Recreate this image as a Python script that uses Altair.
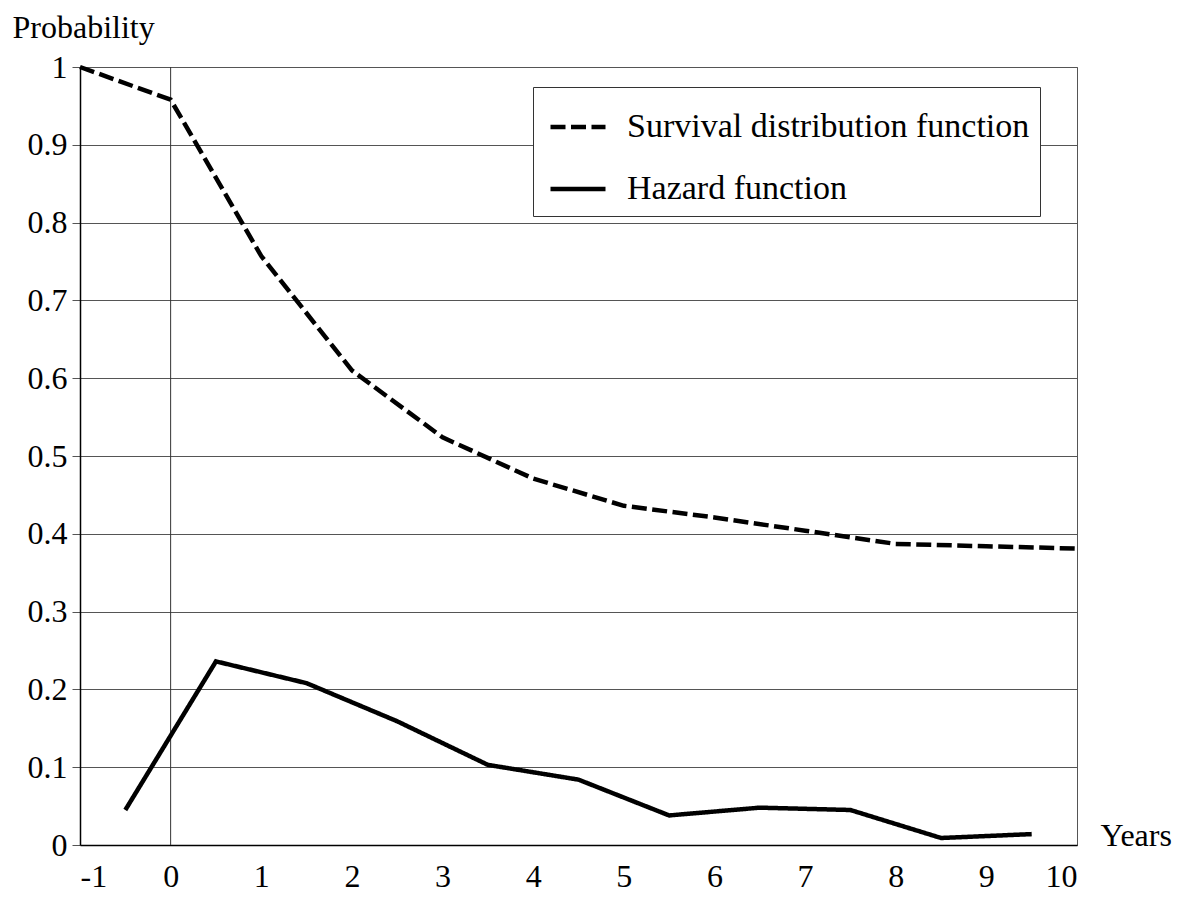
import altair as alt
import pandas as pd

FONT = "Liberation Serif"

surv_years = [-1, 0, 1, 2, 3, 4, 5, 6, 7, 8, 9, 10]
surv_vals = [1.0, 0.958, 0.757, 0.61, 0.524, 0.471, 0.436, 0.421, 0.404, 0.387, 0.384, 0.381]

haz_years = [-0.5, 0.5, 1.5, 2.5, 3.5, 4.5, 5.5, 6.5, 7.5, 8.5, 9.5]
haz_vals = [0.045, 0.236, 0.208, 0.159, 0.103, 0.084, 0.038, 0.048, 0.045, 0.009, 0.014]

series_names = ["Survival distribution function", "Hazard function"]
x_ticks = [-1, 0, 1, 2, 3, 4, 5, 6, 7, 8, 9, 10]
y_ticks = [0, 0.1, 0.2, 0.3, 0.4, 0.5, 0.6, 0.7, 0.8, 0.9, 1]

df = pd.concat([
    pd.DataFrame({"year": surv_years, "p": surv_vals, "series": series_names[0]}),
    pd.DataFrame({"year": haz_years, "p": haz_vals, "series": series_names[1]}),
])

axis_font = dict(labelFont=FONT, labelFontSize=32, labelColor="black",
                 titleFont=FONT, titleFontSize=32, titleFontWeight="normal", titleColor="black")

x_enc = alt.X("year:Q",
              scale=alt.Scale(domain=[-1, 10], nice=False, zero=False),
              axis=alt.Axis(values=x_ticks, labelExpr="datum.value + ''", grid=False,
                            ticks=False, labelPadding=16,
                            title="Years", titleX=1020, titleY=0, titleAlign="left",
                            titleBaseline="alphabetic", titleAngle=0,
                            domainColor="#000", domainWidth=1.5, **axis_font))
y_enc = alt.Y("p:Q",
              scale=alt.Scale(domain=[0, 1], nice=False),
              axis=alt.Axis(values=y_ticks, labelExpr="datum.value + ''", grid=True,
                            gridColor="#555", gridWidth=1, tickSize=8, tickColor="#555",
                            labelPadding=5,
                            title="Probability", titleX=-68, titleY=-30, titleAngle=0,
                            titleAlign="left", titleBaseline="alphabetic",
                            domainColor="#000", domainWidth=1.5, **axis_font))

lines = alt.Chart(df).mark_line(color="black", strokeWidth=4.5).encode(
    x=x_enc,
    y=y_enc,
    strokeDash=alt.StrokeDash(
        "series:N",
        scale=alt.Scale(domain=series_names, range=[[15, 5.5], [1, 0]]),
        sort=series_names,
        legend=alt.Legend(
            title=None, orient="none", legendX=453, legendY=20,
            symbolType="stroke", symbolSize=3025, symbolStrokeWidth=4.5,
            symbolStrokeColor="black", symbolOffset=5,
            labelFont=FONT, labelFontSize=34, labelColor="black", labelOffset=19,
            labelLimit=1000,
            padding=10, rowPadding=15,
            strokeColor="#333", fillColor="white",
        ),
    ),
)

zero_line = alt.Chart(pd.DataFrame({"year": [0]})).mark_rule(color="#333", strokeWidth=1).encode(
    x=alt.X("year:Q")
)

chart = alt.layer(zero_line, lines).properties(
    width=997, height=778,
    padding={"left": 72, "top": 59, "right": 106, "bottom": 52},
    autosize=alt.AutoSizeParams(type="none"),
).configure_view(stroke="#555", strokeWidth=1)

chart.save("out.html", embed_options={"renderer": "svg", "actions": False})
